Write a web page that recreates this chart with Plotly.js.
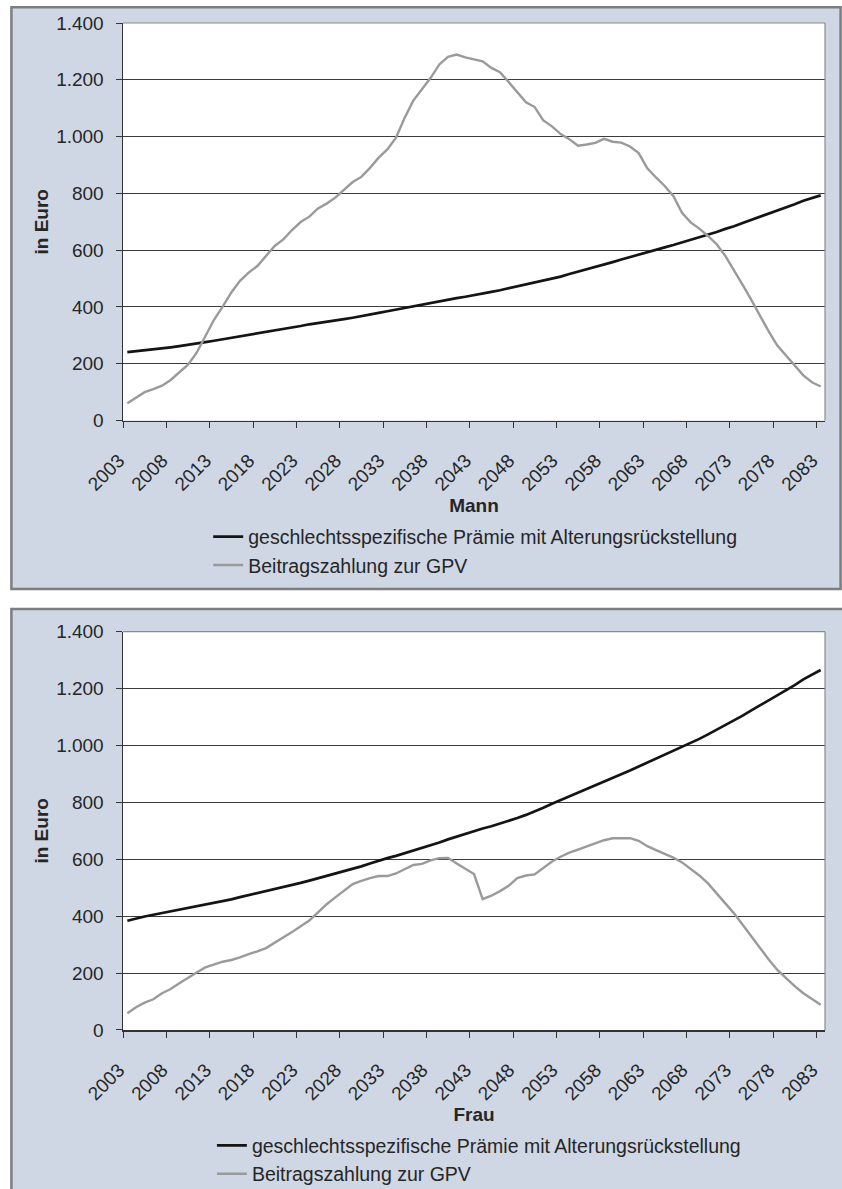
<!DOCTYPE html>
<html>
<head>
<meta charset="utf-8">
<script src="https://cdn.plot.ly/plotly-3.0.1.min.js"></script>
<style>
  html, body { margin: 0; padding: 0; background: #ffffff; }
  #chart { width: 842px; height: 1189px; }
</style>
</head>
<body>
<div id="chart"></div>
<script>
// ---------------- data ----------------
const years = [
  2003,2004,2005,2006,2007,2008,2009,2010,2011,2012,
  2013,2014,2015,2016,2017,2018,2019,2020,2021,2022,
  2023,2024,2025,2026,2027,2028,2029,2030,2031,2032,
  2033,2034,2035,2036,2037,2038,2039,2040,2041,2042,
  2043,2044,2045,2046,2047,2048,2049,2050,2051,2052,
  2053,2054,2055,2056,2057,2058,2059,2060,2061,2062,
  2063,2064,2065,2066,2067,2068,2069,2070,2071,2072,
  2073,2074,2075,2076,2077,2078,2079,2080,2081,2082,
  2083
];

// Mann: geschlechtsspezifische Prämie mit Alterungsrückstellung
const mannPraemie = [
  241,244,247,250,254,258,262,266,271,276,
  281,286,291,296,301,306,311,316,321,327,
  333,339,343,347,352,357,362,367,373,379,
  385,391,397,403,408,414,420,425,431,436,
  441,447,453,459,466,473,479,486,492,499,
  507,516,524,532,541,549,558,567,576,585,
  594,602,610,618,627,636,645,654,664,675,
  684,696,707,717,727,738,750,762,774,784,
  793
];
// Mann: Beitragszahlung zur GPV
const mannGPV = [
  61,82,100,111,123,143,170,197,239,295,
  355,401,451,492,521,544,580,615,638,671,
  699,718,747,764,785,811,840,858,890,926,
  955,996,1066,1127,1169,1207,1254,1281,1289,1279,
  1272,1265,1242,1227,1192,1157,1121,1104,1057,1036,
  1009,991,968,972,978,992,982,979,965,942,
  888,856,826,791,732,698,676,650,621,580,
  531,478,425,369,314,264,228,193,159,135,
  120
];
// Frau: geschlechtsspezifische Prämie mit Alterungsrückstellung
const frauPraemie = [
  384,392,399,405,411,417,423,430,436,442,
  447,452,459,467,474,481,487,494,502,510,
  517,525,533,541,549,557,566,575,585,595,
  604,612,621,631,640,650,659,670,680,689,
  699,708,716,725,735,745,756,768,781,795,
  808,820,832,845,858,871,884,897,912,926,
  940,953,967,981,994,1008,1023,1039,1055,1071,
  1088,1105,1123,1141,1157,1175,1193,1212,1232,1248,
  1265
];
// Frau: Beitragszahlung zur GPV
const frauGPV = [
  59,80,96,108,129,144,164,184,202,220,
  231,240,246,255,267,276,288,307,323,344,
  365,385,413,442,466,490,513,524,534,541,
  541,550,565,580,584,596,604,605,585,566,
  548,460,472,488,507,534,543,547,568,592,
  609,623,634,645,655,667,674,674,674,665,
  646,632,620,606,589,565,543,515,481,445,
  410,370,329,288,248,211,181,154,129,108,
  89
];

const seriesNames = [
  "geschlechtsspezifische Prämie mit Alterungsrückstellung",
  "Beitragszahlung zur GPV"
];
const xTickLabels = ["2003","2008","2013","2018","2023","2028","2033","2038","2043","2048","2053","2058","2063","2068","2073","2078","2083"];
const yTickValues = [0,200,400,600,800,1000,1200,1400];
const yTickLabels = ["0","200","400","600","800","1.000","1.200","1.400"];
const panelTitles = ["Mann","Frau"];
const yTitle = "in Euro";

// ---------------- geometry (pixels) ----------------
const W = 842, H = 1189;
const L = 122.7, R = 825.4, T = 22.7, B = 1030.3;
const px = X => (X - L) / (R - L);
const py = Y => (B - Y) / (B - T);
const top1 = 22.7, bot1 = 420.5, top2 = 631.7, bot2 = 1030.3;

const FONT = "Liberation Sans, Arial, Helvetica, sans-serif";
const TXT = "#262626";
const PANEL = "#CFD7E5";
const BORDER = "#7d7d7d";
const BLACK = "#141414";
const GREY = "#9a9a9a";
const LEGEND_SIZE = 19.5;

const tickvalsX = xTickLabels.map(s => Number(s) - 0.5);

function xAxis(anchor, title) {
  return {
    anchor: anchor, domain: [0, 1],
    range: [years[0] - 0.5, years[years.length - 1] + 0.5],
    tickmode: "array", tickvals: tickvalsX, ticktext: xTickLabels,
    tickangle: -45, ticks: "outside", ticklen: 6, tickwidth: 1, tickcolor: "#333",
    ticklabelstandoff: 14, ticklabelshift: -4,
    showgrid: false, zeroline: false,
    showline: true, linecolor: "#333", linewidth: 1.5,
    tickfont: { family: FONT, size: 19, color: TXT },
    title: { text: title, standoff: 0, font: { family: FONT, size: 19, color: TXT, weight: "bold" } },
    fixedrange: true
  };
}
function yAxis(anchor, domain) {
  return {
    anchor: anchor, domain: domain,
    range: [0, 1400],
    tickmode: "array", tickvals: yTickValues, ticktext: yTickLabels,
    ticks: "outside", ticklen: 6, tickwidth: 1, tickcolor: "#333",
    ticklabelstandoff: 8,
    showgrid: true, gridcolor: "#3c3c3c", gridwidth: 1,
    zeroline: false,
    showline: true, linecolor: "#333", linewidth: 1.5,
    tickfont: { family: FONT, size: 19, color: TXT },
    title: { text: yTitle, standoff: 2, font: { family: FONT, size: 19, color: TXT, weight: "bold" } },
    fixedrange: true
  };
}

const traces = [
  { x: years, y: mannPraemie, name: seriesNames[0], xaxis: "x", yaxis: "y", legend: "legend",
    mode: "lines", line: { color: BLACK, width: 2.7 }, legendgroup: "a1" },
  { x: years, y: mannGPV, name: seriesNames[1], xaxis: "x", yaxis: "y", legend: "legend",
    mode: "lines", line: { color: GREY, width: 2.4 }, legendgroup: "b1" },
  { x: years, y: frauPraemie, name: seriesNames[0], xaxis: "x2", yaxis: "y2", legend: "legend2",
    mode: "lines", line: { color: BLACK, width: 2.7 }, legendgroup: "a2" },
  { x: years, y: frauGPV, name: seriesNames[1], xaxis: "x2", yaxis: "y2", legend: "legend2",
    mode: "lines", line: { color: GREY, width: 2.4 }, legendgroup: "b2" }
];

function legendAt(textX, firstY) {
  const itemH = LEGEND_SIZE * 1.3 + 3;
  return {
    x: px(textX - 40), xanchor: "left",
    y: py(firstY - 5 - itemH / 2), yanchor: "top",
    orientation: "v", traceorder: "grouped", tracegroupgap: 0,
    bgcolor: "rgba(0,0,0,0)", borderwidth: 0,
    font: { family: FONT, size: LEGEND_SIZE, color: TXT }
  };
}

const shapes = [
  // panel backgrounds
  { type: "rect", xref: "paper", yref: "paper", layer: "below",
    x0: px(11), x1: px(841), y0: py(589), y1: py(7),
    fillcolor: PANEL, line: { color: BORDER, width: 2.5 } },
  { type: "rect", xref: "paper", yref: "paper", layer: "below",
    x0: px(11), x1: px(848), y0: py(1200), y1: py(609),
    fillcolor: PANEL, line: { color: BORDER, width: 2.5 } },
  // white plot areas
  { type: "rect", xref: "paper", yref: "paper", layer: "below",
    x0: 0, x1: 1, y0: py(bot1), y1: py(top1), fillcolor: "#ffffff", line: { width: 0 } },
  { type: "rect", xref: "paper", yref: "paper", layer: "below",
    x0: 0, x1: 1, y0: py(bot2), y1: py(top2), fillcolor: "#ffffff", line: { width: 0 } },
  // light plot-area border (top and right)
  { type: "line", xref: "paper", yref: "paper", layer: "above",
    x0: 0, x1: 1, y0: py(top1), y1: py(top1), line: { color: "#8a8a8a", width: 1.2 } },
  { type: "line", xref: "paper", yref: "paper", layer: "above",
    x0: 1, x1: 1, y0: py(bot1), y1: py(top1), line: { color: "#8a8a8a", width: 1.2 } },
  { type: "line", xref: "paper", yref: "paper", layer: "above",
    x0: 0, x1: 1, y0: py(top2), y1: py(top2), line: { color: "#8a8a8a", width: 1.2 } },
  { type: "line", xref: "paper", yref: "paper", layer: "above",
    x0: 1, x1: 1, y0: py(bot2), y1: py(top2), line: { color: "#8a8a8a", width: 1.2 } }
];

const layout = {
  width: W, height: H,
  margin: { l: L, r: W - R, t: T, b: H - B, pad: 0, autoexpand: false },
  paper_bgcolor: "#ffffff",
  plot_bgcolor: "rgba(0,0,0,0)",
  showlegend: true,
  xaxis: xAxis("y", panelTitles[0]),
  yaxis: yAxis("x", [py(bot1), py(top1)]),
  xaxis2: xAxis("y2", panelTitles[1]),
  yaxis2: yAxis("x2", [py(bot2), py(top2)]),
  legend: legendAt(248, 536.7),
  legend2: legendAt(251.7, 1145.7),
  shapes: shapes,
  hovermode: false
};

Plotly.newPlot("chart", traces, layout, { displayModeBar: false, staticPlot: true });
</script>
</body>
</html>
